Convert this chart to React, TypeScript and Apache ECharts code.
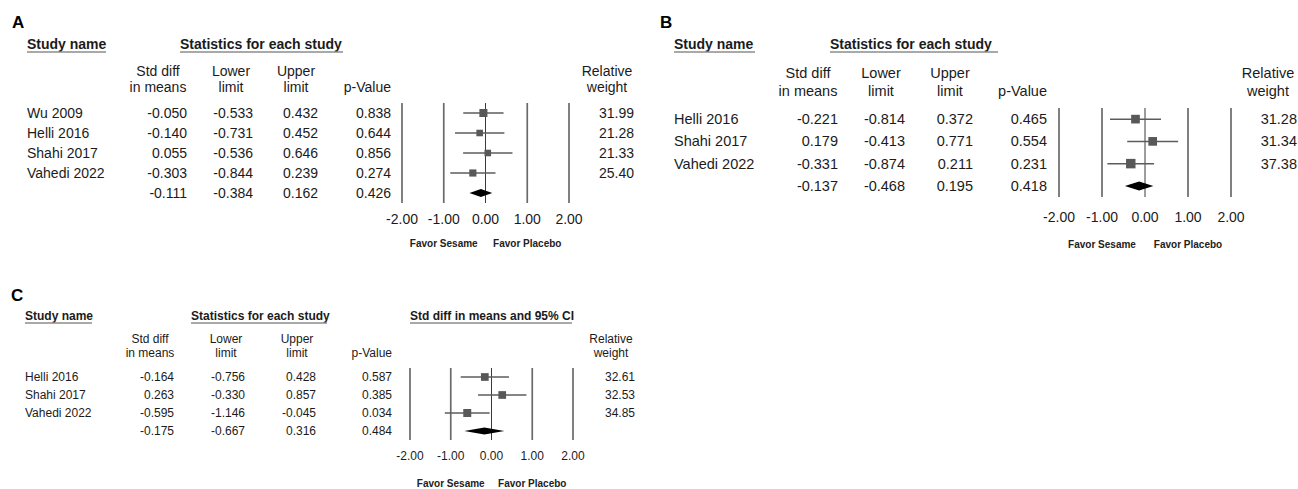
import React, { useEffect, useRef } from 'react';
import * as echarts from 'echarts';

// ---------- data ----------
const studiesA = ['Wu 2009', 'Helli 2016', 'Shahi 2017', 'Vahedi 2022'];
const smdA = [-0.05, -0.14, 0.055, -0.303];
const lowerA = [-0.533, -0.731, -0.536, -0.844];
const upperA = [0.432, 0.452, 0.646, 0.239];
const pA = [0.838, 0.644, 0.856, 0.274];
const weightA = [31.99, 21.28, 21.33, 25.4];
const summaryA = [-0.111, -0.384, 0.162, 0.426]; // smd, lower, upper, p

const studiesB = ['Helli 2016', 'Shahi 2017', 'Vahedi 2022'];
const smdB = [-0.221, 0.179, -0.331];
const lowerB = [-0.814, -0.413, -0.874];
const upperB = [0.372, 0.771, 0.211];
const pB = [0.465, 0.554, 0.231];
const weightB = [31.28, 31.34, 37.38];
const summaryB = [-0.137, -0.468, 0.195, 0.418];

const studiesC = ['Helli 2016', 'Shahi 2017', 'Vahedi 2022'];
const smdC = [-0.164, 0.263, -0.595];
const lowerC = [-0.756, -0.33, -1.146];
const upperC = [0.428, 0.857, -0.045];
const pC = [0.587, 0.385, 0.034];
const weightC = [32.61, 32.53, 34.85];
const summaryC = [-0.175, -0.667, 0.316, 0.484];

const refTicks = [-2, -1, 0, 1, 2];
const headersA = ['Study name', 'Statistics for each study'];
const headersC = ['Study name', 'Statistics for each study', 'Std diff in means and 95% CI'];
const colHeads = [['Std diff', 'in means'], ['Lower', 'limit'], ['Upper', 'limit'], ['', 'p-Value'], ['Relative', 'weight']];
const favorLabels = ['Favor Sesame', 'Favor Placebo'];

// ---------- layout ----------
const FONT = '"Liberation Sans", Arial, Helvetica, sans-serif';
const TEXT = '#1b1b1b';

const layoutA = {
  grid: { left: 402, top: 103, width: 167, height: 100 },
  fs: 14, axisFs: 14, labelMargin: 9, letterFs: 17,
  letter: { x: 12, y: 22 },
  headY: 44, underY: 52,
  heads: [{ x: 27, w: 79 }, { x: 180, w: 163 }],
  headFs: 14,
  sub1Y: 71, sub2Y: 87,
  subX: [158, 231, 296, 391, 607],
  subAlign: ['center', 'center', 'center', 'right', 'center'],
  nameL: 27, colR: [187, 253, 318, 391, 634],
  favorY: 243, favorFs: 10,
  sq: 1.42, dia: 4,
};
const layoutB = {
  grid: { left: 1059, top: 108, width: 172, height: 89 },
  fs: 14.5, axisFs: 14, labelMargin: 13, letterFs: 17,
  letter: { x: 660, y: 22 },
  headY: 44, underY: 52,
  heads: [{ x: 674, w: 81 }, { x: 830, w: 168 }],
  headFs: 14,
  sub1Y: 73, sub2Y: 91,
  subX: [808, 881, 950, 1047, 1268],
  subAlign: ['center', 'center', 'center', 'right', 'center'],
  nameL: 674, colR: [838, 905, 973, 1047, 1297],
  favorY: 244, favorFs: 10,
  sq: 1.55, dia: 4.5,
};
const layoutC = {
  grid: { left: 410, top: 368, width: 163, height: 72 },
  fs: 12, axisFs: 12, labelMargin: 10, letterFs: 17,
  letter: { x: 11, y: 295 },
  headY: 316, underY: 323,
  heads: [{ x: 25, w: 67 }, { x: 191, w: 136 }, { x: 410, w: 162 }],
  headFs: 12,
  sub1Y: 339, sub2Y: 353,
  subX: [150, 226, 297, 392, 611],
  subAlign: ['center', 'center', 'center', 'right', 'center'],
  nameL: 25, colR: [174, 245, 316, 392, 635],
  favorY: 483, favorFs: 10,
  sq: 1.35, dia: 3.6,
};

const panels = [
  { letter: 'A', headers: headersA, studies: studiesA, smd: smdA, lower: lowerA, upper: upperA, p: pA, weight: weightA, summary: summaryA, L: layoutA },
  { letter: 'B', headers: headersA, studies: studiesB, smd: smdB, lower: lowerB, upper: upperB, p: pB, weight: weightB, summary: summaryB, L: layoutB },
  { letter: 'C', headers: headersC, studies: studiesC, smd: smdC, lower: lowerC, upper: upperC, p: pC, weight: weightC, summary: summaryC, L: layoutC },
];

function txt(text: string, x: number, y: number, size: number, align = 'left', bold = false, color = TEXT) {
  return {
    type: 'text', x, y, silent: true,
    style: {
      text, fill: color,
      font: `${bold ? 'bold ' : ''}${size}px ${FONT}`,
      textAlign: align, textVerticalAlign: 'middle',
      align, verticalAlign: 'middle',
    },
  };
}
function ln(x1: number, y1: number, x2: number, y2: number, stroke = '#8c8c8c', w = 1.5) {
  return { type: 'line', silent: true, shape: { x1, y1, x2, y2 }, style: { stroke, lineWidth: w } };
}

export default function App() {
  const ref = useRef<HTMLDivElement>(null);
  useEffect(() => {
    const chart = echarts.init(ref.current!, undefined, { renderer: 'svg' });
    const grids: any[] = [];
    const xAxes: any[] = [];
    const yAxes: any[] = [];
    const series: any[] = [];

    panels.forEach((pn, k) => {
      const L = pn.L;
      const n = pn.studies.length;
      grids.push({ left: L.grid.left, top: L.grid.top, width: L.grid.width, height: L.grid.height });
      xAxes.push({
        type: 'value', gridIndex: k, min: -2, max: 2, interval: 1,
        axisLine: { show: false }, axisTick: { show: false }, splitLine: { show: false },
        axisLabel: { margin: L.labelMargin, fontSize: L.axisFs, fontFamily: FONT, color: TEXT, formatter: (v: number) => v.toFixed(2) },
      });
      yAxes.push({ type: 'value', gridIndex: k, min: 0, max: n + 1, inverse: true, show: false });

      series.push({
        type: 'custom', xAxisIndex: k, yAxisIndex: k, silent: true, z: 1,
        encode: { x: 0, y: [1, 2] },
        data: refTicks.map((t) => [t, 0, n + 1]),
        renderItem: (_p: any, api: any) => {
          const a = api.coord([api.value(0), api.value(1)]);
          const b = api.coord([api.value(0), api.value(2)]);
          const zero = api.value(0) === 0;
          return {
            type: 'line',
            shape: { x1: a[0], y1: a[1], x2: b[0], y2: b[1] },
            style: { stroke: zero ? '#3a3a3a' : '#6a6a6a', lineWidth: zero ? 1 : 1.7 },
          };
        },
      });
      series.push({
        type: 'custom', xAxisIndex: k, yAxisIndex: k, silent: true, z: 2,
        encode: { x: [0, 1], y: 2 },
        data: pn.studies.map((_s, i) => [pn.lower[i], pn.upper[i], i + 0.5]),
        renderItem: (_p: any, api: any) => {
          const a = api.coord([api.value(0), api.value(2)]);
          const b = api.coord([api.value(1), api.value(2)]);
          return {
            type: 'line',
            shape: { x1: a[0], y1: a[1], x2: b[0], y2: b[1] },
            style: { stroke: '#5c5c5c', lineWidth: 1.5 },
          };
        },
      });
      series.push({
        type: 'scatter', xAxisIndex: k, yAxisIndex: k, silent: true, z: 3,
        symbol: 'rect',
        symbolSize: (_v: any, params: any) => Math.sqrt(pn.weight[params.dataIndex]) * L.sq,
        itemStyle: { color: '#585858', opacity: 1 },
        data: pn.smd.map((v, i) => [v, i + 0.5]),
      });
      series.push({
        type: 'custom', xAxisIndex: k, yAxisIndex: k, silent: true, z: 3,
        encode: { x: [0, 1, 2], y: 3 },
        data: [[pn.summary[1], pn.summary[0], pn.summary[2], n + 0.5]],
        renderItem: (_p: any, api: any) => {
          const y = api.value(3);
          const l = api.coord([api.value(0), y]);
          const m = api.coord([api.value(1), y]);
          const r = api.coord([api.value(2), y]);
          const h = L.dia;
          return {
            type: 'polygon',
            shape: { points: [[l[0], l[1]], [m[0], m[1] - h], [r[0], r[1]], [m[0], m[1] + h]] },
            style: { fill: '#000' },
          };
        },
      });
    });

    chart.setOption({ animation: false, backgroundColor: '#fff', grid: grids, xAxis: xAxes, yAxis: yAxes, series });

    const els: any[] = [];
    panels.forEach((pn, k) => {
      const L = pn.L;
      const n = pn.studies.length;
      els.push(txt(pn.letter, L.letter.x, L.letter.y, L.letterFs, 'left', true, '#000'));
      pn.headers.forEach((h, j) => {
        const hd = L.heads[j];
        els.push(txt(h, hd.x, L.headY, L.headFs, 'left', true));
        els.push(ln(hd.x, L.underY, hd.x + hd.w, L.underY));
      });
      colHeads.forEach((pair, j) => {
        if (pair[0]) els.push(txt(pair[0], L.subX[j], L.sub1Y, L.fs, L.subAlign[j]));
        els.push(txt(pair[1], L.subX[j], L.sub2Y, L.fs, L.subAlign[j]));
      });
      const rowY = (i: number) => (chart.convertToPixel({ gridIndex: k } as any, [0, i + 0.5]) as number[])[1];
      pn.studies.forEach((s, i) => {
        const y = rowY(i);
        els.push(txt(s, L.nameL, y, L.fs));
        const vals = [pn.smd[i].toFixed(3), pn.lower[i].toFixed(3), pn.upper[i].toFixed(3), pn.p[i].toFixed(3), pn.weight[i].toFixed(2)];
        vals.forEach((v, j) => els.push(txt(v, L.colR[j], y, L.fs, 'right')));
      });
      const ys = rowY(n);
      pn.summary.forEach((v, j) => els.push(txt(v.toFixed(3), L.colR[j], ys, L.fs, 'right')));
      const xl = (chart.convertToPixel({ gridIndex: k } as any, [-1, 0]) as number[])[0];
      const xr = (chart.convertToPixel({ gridIndex: k } as any, [1, 0]) as number[])[0];
      els.push(txt(favorLabels[0], xl, L.favorY, L.favorFs, 'center', true, '#222'));
      els.push(txt(favorLabels[1], xr, L.favorY, L.favorFs, 'center', true, '#222'));
    });
    chart.setOption({ graphic: { elements: els } });

    return () => chart.dispose();
  }, []);

  return (
    <div
      ref={ref}
      style={{ position: 'absolute', left: 0, top: 0, width: 1298, height: 489, background: '#fff' }}
    />
  );
}
